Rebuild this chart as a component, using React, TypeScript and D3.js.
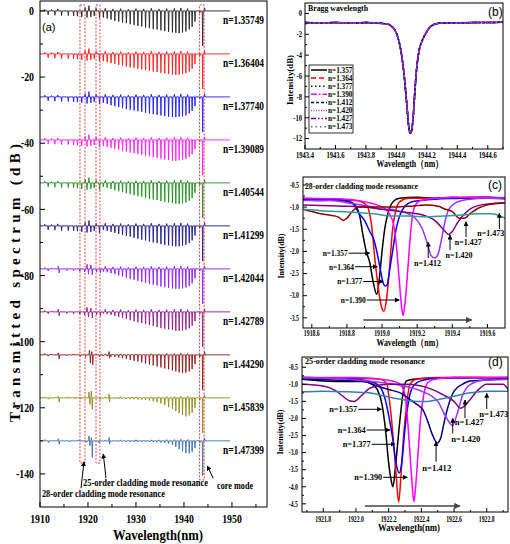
import React from "react";
import * as d3 from "d3";

const SERIF = "'Liberation Serif','Times New Roman',serif";
const SANS = "'Liberation Sans',Arial,sans-serif";

// ---------------- Panel (a) data ----------------
const aLabels = ["n=1.35749", "n=1.36404", "n=1.37740", "n=1.39089", "n=1.40544", "n=1.41299", "n=1.42044", "n=1.42789", "n=1.44290", "n=1.45839", "n=1.47399"];
const aColors = ["#222222", "#ff1a1a", "#1a1aff", "#ff1aff", "#1f8c1f", "#1a1a8c", "#8c1aff", "#8c1a8c", "#8c1a1a", "#8c8c1a", "#3a6fb0"];
const aOffsets = [0, -13, -26, -39, -52, -65, -78, -91, -104, -117, -130];
const combWl = [1923.2, 1924.0, 1924.8, 1925.6, 1926.4, 1927.2, 1928.0, 1928.8, 1929.6, 1930.4, 1931.2, 1932.0, 1932.8, 1933.6, 1934.4, 1935.2, 1936.0, 1936.8, 1937.6, 1938.3, 1939.0, 1939.7, 1940.4, 1941.1, 1941.7, 1942.3];
const depth1 = [2.0, 2.3, 2.6, 3.0, 3.2, 3.5, 3.7, 4.0, 4.2, 4.5, 4.7, 5.0, 5.2, 5.5, 5.6, 5.9, 6.1, 6.3, 6.5, 6.6, 6.7, 6.5, 6.2, 5.6, 4.8, 3.2];
const depth2 = [2.2, 2.5, 2.8, 3.0, 3.3, 3.5, 3.8, 4.0, 4.2, 4.5, 4.7, 4.9, 5.1, 5.3, 5.5, 5.7, 5.9, 6.1, 6.2, 6.3, 6.3, 6.1, 5.8, 5.3, 4.5, 3.0];
const depth3 = [1.8, 2.1, 2.5, 2.8, 3.1, 3.4, 3.7, 3.9, 4.1, 4.3, 4.5, 4.8, 5.0, 5.2, 5.4, 5.6, 5.8, 6.0, 6.1, 6.1, 6.0, 5.9, 5.6, 5.0, 4.2, 2.8];
const depth4 = [1.8, 2.1, 2.4, 2.7, 3.0, 3.3, 3.5, 3.8, 4.0, 4.3, 4.5, 4.8, 5.0, 5.2, 5.5, 5.7, 5.9, 6.1, 6.3, 6.3, 6.2, 6.0, 5.7, 5.1, 4.3, 2.8];
const depth5 = [1.2, 1.5, 1.8, 2.2, 2.5, 2.8, 3.1, 3.4, 3.7, 4.0, 4.2, 4.5, 4.8, 5.0, 5.2, 5.5, 5.7, 5.9, 6.1, 6.3, 6.3, 6.2, 5.9, 5.4, 4.6, 3.0];
const depth6 = [1.2, 1.5, 1.8, 2.1, 2.4, 2.7, 3.0, 3.3, 3.6, 3.9, 4.2, 4.4, 4.7, 5.0, 5.2, 5.5, 5.7, 5.9, 6.1, 6.2, 6.2, 6.0, 5.7, 5.2, 4.4, 2.9];
const depth7 = [0.8, 1.0, 1.3, 1.6, 2.0, 2.3, 2.7, 3.0, 3.3, 3.6, 3.9, 4.2, 4.5, 4.8, 5.0, 5.3, 5.5, 5.7, 5.9, 6.0, 6.0, 5.9, 5.6, 5.2, 4.4, 2.9];
const depth8 = [0.5, 0.7, 0.9, 1.2, 1.5, 1.8, 2.1, 2.5, 2.8, 3.1, 3.4, 3.7, 4.0, 4.3, 4.6, 4.9, 5.1, 5.3, 5.5, 5.7, 5.7, 5.6, 5.4, 5.0, 4.2, 2.8];
const depth9 = [0.3, 0.4, 0.5, 0.6, 0.8, 1.0, 1.3, 1.5, 1.8, 2.0, 2.3, 2.6, 2.9, 3.2, 3.5, 3.8, 4.1, 4.4, 4.7, 5.0, 5.3, 5.5, 5.4, 5.0, 4.3, 2.8];
const depth10 = [0.2, 0.2, 0.2, 0.3, 0.3, 0.3, 0.3, 0.4, 0.4, 0.5, 0.5, 0.6, 0.8, 1.0, 1.3, 1.7, 2.2, 2.8, 3.4, 4.0, 4.6, 5.2, 5.6, 5.3, 4.5, 3.0];
const depth11 = [0.2, 0.2, 0.2, 0.2, 0.2, 0.2, 0.3, 0.3, 0.3, 0.3, 0.3, 0.3, 0.3, 0.4, 0.4, 0.5, 0.6, 0.8, 1.2, 1.8, 2.5, 3.2, 3.7, 3.8, 3.3, 2.2];
// small upward noise spikes on the comb region (wavelength, dB)
const combUpWl = [1923.6, 1925.2, 1926.8, 1928.4, 1930.0, 1931.6, 1933.2, 1934.8, 1936.4, 1938.0, 1939.35, 1940.75];
const combUpLow = [0.8, 0.6, 0.7, 0.5, 0.7, 0.6, 0.8, 0.6, 0.7, 0.8, 0.9, 0.7];
const combUpHigh = [0.3, 0.2, 0.3, 0.2, 0.3, 0.2, 0.3, 0.3, 0.4, 0.4, 0.5, 0.4];
const leftA: [number, number][] = [[1911.0, 0.5], [1911.7, -1.2], [1912.4, 0.4], [1913.1, -1.3], [1913.7, 0.6], [1914.5, -1.4], [1915.9, -1.4], [1917.0, -1.5], [1917.8, -1.6], [1918.7, -1.8], [1919.4, 1.0], [1919.8, -2.0], [1920.2, 1.6], [1920.6, -1.8], [1921.3, -1.5], [1921.7, 0.8], [1922.4, -2.2]];
const leftB: [number, number][] = [[1911.0, 0.4], [1911.7, -0.6], [1912.5, 0.3], [1913.8, 0.8], [1914.0, -1.2], [1915.6, -0.5], [1917.0, -0.6], [1918.3, -0.7], [1919.3, -0.9], [1919.8, 1.4], [1920.1, -1.5], [1920.6, 1.2], [1920.9, -1.8], [1921.8, -0.9], [1922.6, -1.2]];
const leftC: [number, number][] = [[1911.0, 0.4], [1911.7, -0.4], [1912.3, 0.3], [1913.8, 0.6], [1914.0, -1.2], [1915.5, -0.3], [1917.0, 0.3], [1918.4, -0.4], [1919.5, -0.5], [1920.3, 1.4], [1920.5, -2.5], [1920.8, 1.0], [1921.0, -3.0], [1922.4, -0.6], [1924.4, 1.0], [1924.5, -1.0]];
const leftD: [number, number][] = [[1911.0, 0.3], [1911.8, -0.4], [1913.8, 0.5], [1914.0, -1.3], [1916.0, 0.3], [1917.3, -0.3], [1918.5, -0.3], [1920.2, 1.8], [1920.4, -2.0], [1920.7, 2.0], [1920.9, -3.5], [1922.5, -0.5], [1924.4, 1.2], [1924.5, -1.2], [1929.1, 0.3]];
const leftE: [number, number][] = [[1911.0, 0.4], [1911.8, -0.5], [1913.8, 0.6], [1914.0, -1.0], [1916.2, -0.3], [1918.0, 0.3], [1919.7, -0.4], [1920.2, 1.5], [1920.4, -1.5], [1920.7, 1.0], [1920.9, -5.0], [1922.3, -0.6], [1924.4, 1.0], [1924.5, -1.0], [1930.0, 0.3]];
const coreDip: [number, number][] = [[1943.3, -0.6], [1943.9, -10.6], [1944.3, 0.9]];
const aDepths = [depth1, depth2, depth3, depth4, depth5, depth6, depth7, depth8, depth9, depth10, depth11];
const aLeft = [leftA, leftA, leftA, leftA, leftA, leftA, leftB, leftB, leftC, leftD, leftE];
const aUp = [combUpLow, combUpLow, combUpLow, combUpLow, combUpLow, combUpLow, combUpLow, combUpLow, combUpHigh, combUpHigh, combUpHigh];
const aXTicks = [1910, 1920, 1930, 1940, 1950];
const aXMinor = [1915, 1925, 1935, 1945, 1955];
const aYTicks = [0, -20, -40, -60, -80, -100, -120, -140];
const aYMinor = [-10, -30, -50, -70, -90, -110, -130];
const aBoxes = [[1918.33, 1919.38, 1.8, -136.7], [1921.67, 1922.5, 1.8, -136.7], [1943.25, 1944.2, 1.8, -141.8]];
const aNotes = [
  { text: "28-order cladding mode resonance", x: 1910.4, y: -145.8, w: 123 },
  { text: "25-order cladding mode resonance", x: 1918.96, y: -142.45, w: 125 },
  { text: "core mode", x: 1946.9, y: -143.4, w: 36 },
];
const aArrows = [
  [1918.54, -144.3, 1919.17, -136.3],
  [1923.75, -141.3, 1923.19, -134.0],
  [1946.1, -141.3, 1944.85, -137.6],
];

// ---------------- Panel (b) data ----------------
const bLabels = ["n=1.357", "n=1.364", "n=1.377", "n=1.390", "n=1.412", "n=1.420", "n=1.427", "n=1.473"];
const bColors = ["#000000", "#ff0000", "#0000ff", "#ff00ff", "#000080", "#9933ff", "#800080", "#3d7ab8"];
const bDash = ["", "5,3", "1.5,2.5", "6,2,1.5,2", "3,2", "1,1.5", "5,2,1.5,2,1.5,2", "1.5,3"];
const braggWl = [1943.4, 1943.5, 1943.6, 1943.7, 1943.8, 1943.9, 1943.95, 1943.97, 1943.99, 1944.01, 1944.03, 1944.05, 1944.07, 1944.08, 1944.09, 1944.1, 1944.11, 1944.12, 1944.13, 1944.15, 1944.17, 1944.19, 1944.21, 1944.23, 1944.26, 1944.3, 1944.4, 1944.5, 1944.6, 1944.7];
const braggI = [-0.88, -0.9, -0.88, -0.9, -0.88, -0.95, -1.05, -1.25, -1.6, -2.3, -3.6, -5.8, -9.0, -10.7, -11.5, -11.2, -10.0, -7.8, -5.8, -3.5, -2.6, -2.0, -1.5, -1.2, -1.0, -0.92, -0.9, -0.88, -0.87, -0.85];
const bXTicks = [1943.4, 1943.6, 1943.8, 1944.0, 1944.2, 1944.4, 1944.6];
const bXMinor = [1943.5, 1943.7, 1943.9, 1944.1, 1944.3, 1944.5, 1944.7];
const bYTicks = [0, -2, -4, -6, -8, -10, -12];
const bYMinor = [-1, -3, -5, -7, -9, -11];

// ---------------- Panel (c) data ----------------
const cColors = ["#000000", "#ff0000", "#0000ff", "#ff00ff", "#9933ff", "#800080", "#8b0000", "#2e9a9a"];
const c1357: [number, number][] = [[1918.55, -0.82], [1918.64, -0.85], [1918.74, -0.84], [1918.83, -0.9], [1918.87, -1.15], [1918.89, -1.6], [1918.91, -2.0], [1918.93, -2.25], [1918.95, -2.7], [1918.97, -2.97], [1918.985, -2.6], [1919.0, -2.0], [1919.015, -1.5], [1919.03, -1.2], [1919.045, -1.0], [1919.07, -0.85], [1919.1, -0.8], [1919.2, -0.78], [1919.3, -0.8], [1919.4, -0.78], [1919.5, -0.8], [1919.6, -0.78], [1919.7, -0.8]];
const c1364: [number, number][] = [[1918.55, -0.8], [1918.7, -0.82], [1918.85, -0.85], [1918.91, -0.95], [1918.94, -1.4], [1918.96, -2.2], [1918.985, -3.0], [1919.0, -3.3], [1919.01, -3.35], [1919.025, -3.1], [1919.04, -2.5], [1919.06, -1.5], [1919.08, -1.05], [1919.1, -0.88], [1919.15, -0.8], [1919.3, -0.8], [1919.5, -0.78], [1919.7, -0.8]];
const c1377: [number, number][] = [[1918.55, -0.82], [1918.7, -0.82], [1918.8, -0.85], [1918.84, -0.95], [1918.87, -1.15], [1918.9, -1.3], [1918.93, -1.55], [1918.95, -1.7], [1918.97, -2.0], [1918.99, -2.4], [1919.005, -2.7], [1919.02, -2.78], [1919.03, -2.75], [1919.04, -2.5], [1919.06, -2.0], [1919.08, -1.5], [1919.1, -1.2], [1919.13, -0.98], [1919.17, -0.88], [1919.22, -0.85], [1919.3, -0.82], [1919.45, -0.8], [1919.55, -0.78], [1919.7, -0.8]];
const c1390: [number, number][] = [[1918.55, -0.8], [1918.8, -0.82], [1918.9, -0.88], [1918.97, -0.95], [1919.02, -1.05], [1919.06, -1.3], [1919.08, -1.8], [1919.095, -2.5], [1919.11, -3.2], [1919.12, -3.45], [1919.13, -3.2], [1919.145, -2.5], [1919.16, -1.7], [1919.175, -1.15], [1919.19, -0.95], [1919.22, -0.85], [1919.3, -0.8], [1919.5, -0.78], [1919.7, -0.8]];
const c1412: [number, number][] = [[1918.55, -0.85], [1918.7, -0.85], [1918.83, -0.92], [1918.95, -1.0], [1919.0, -1.05], [1919.05, -1.05], [1919.1, -1.1], [1919.15, -1.15], [1919.2, -1.3], [1919.23, -1.5], [1919.26, -1.85], [1919.28, -2.1], [1919.3, -2.15], [1919.32, -2.05], [1919.34, -1.7], [1919.36, -1.3], [1919.38, -1.05], [1919.42, -0.9], [1919.5, -0.82], [1919.6, -0.8], [1919.7, -0.82]];
const c1420: [number, number][] = [[1918.55, -0.95], [1918.7, -0.97], [1918.8, -0.98], [1918.9, -1.0], [1919.0, -1.05], [1919.1, -1.1], [1919.2, -1.15], [1919.25, -1.2], [1919.3, -1.3], [1919.33, -1.42], [1919.36, -1.55], [1919.38, -1.62], [1919.4, -1.55], [1919.43, -1.35], [1919.47, -1.15], [1919.52, -1.0], [1919.6, -0.93], [1919.7, -0.9]];
const c1427: [number, number][] = [[1918.55, -1.05], [1918.6, -1.1], [1918.65, -1.15], [1918.7, -1.18], [1918.75, -1.22], [1918.78, -1.3], [1918.8, -1.25], [1918.83, -1.1], [1918.87, -1.0], [1918.95, -1.0], [1919.05, -1.0], [1919.15, -0.98], [1919.25, -0.95], [1919.32, -0.98], [1919.36, -1.05], [1919.4, -1.1], [1919.44, -1.25], [1919.47, -1.25], [1919.5, -1.15], [1919.55, -1.02], [1919.6, -0.95], [1919.7, -0.9]];
const c1473: [number, number][] = [[1918.55, -1.05], [1918.65, -1.08], [1918.75, -1.1], [1918.85, -1.12], [1918.95, -1.15], [1919.05, -1.2], [1919.15, -1.2], [1919.25, -1.22], [1919.35, -1.2], [1919.45, -1.18], [1919.55, -1.15], [1919.62, -1.15], [1919.7, -1.25]];
const cSeries = [c1357, c1364, c1377, c1390, c1412, c1420, c1427, c1473];
const cXTicks = [1918.6, 1918.8, 1919.0, 1919.2, 1919.4, 1919.6];
const cXMinor = [1918.7, 1918.9, 1919.1, 1919.3, 1919.5];
const cYTicks = [-0.5, -1.0, -1.5, -2.0, -2.5, -3.0, -3.5];
const cYMinor = [-0.75, -1.25, -1.75, -2.25, -2.75, -3.25];
const cHNotes = [
  { text: "n=1.357", x0: 1918.81, x1: 1918.93, y: -2.04 },
  { text: "n=1.364", x0: 1918.846, x1: 1918.973, y: -2.346 },
  { text: "n=1.377", x0: 1918.893, x1: 1919.007, y: -2.68 },
  { text: "n=1.390", x0: 1918.913, x1: 1919.098, y: -3.098 },
];
const cVNotes = [
  { text: "n=1.412", x: 1919.263, yTip: -1.79, yStart: -2.15, tx: 1919.259, ty: -2.27 },
  { text: "n=1.420", x: 1919.387, yTip: -1.63, yStart: -1.97, tx: 1919.438, ty: -2.08 },
  { text: "n=1.427", x: 1919.478, yTip: -1.33, yStart: -1.675, tx: 1919.491, ty: -1.781 },
  { text: "n=1.473", x: 1919.668, yTip: -1.14, yStart: -1.494, tx: 1919.619, ty: -1.591 },
];
const cLong = [1918.893, 1919.51, -3.549];

// ---------------- Panel (d) data ----------------
const dColors = ["#000000", "#ff0000", "#0000ff", "#ff00ff", "#000080", "#9933ff", "#800080", "#3d7ab8"];
const d1357: [number, number][] = [[1921.67, -0.85], [1921.8, -0.9], [1921.95, -0.92], [1922.05, -0.92], [1922.1, -1.0], [1922.13, -1.15], [1922.16, -1.6], [1922.18, -2.3], [1922.2, -3.3], [1922.215, -3.8], [1922.226, -4.0], [1922.24, -3.5], [1922.25, -3.0], [1922.27, -2.0], [1922.29, -1.2], [1922.31, -0.9], [1922.35, -0.85], [1922.45, -0.82], [1922.6, -0.8], [1922.75, -0.8], [1922.93, -0.82]];
const d1364: [number, number][] = [[1921.67, -0.8], [1922.0, -0.82], [1922.15, -0.85], [1922.19, -1.0], [1922.2, -1.3], [1922.215, -1.9], [1922.23, -2.7], [1922.245, -3.6], [1922.261, -4.45], [1922.275, -3.7], [1922.29, -2.6], [1922.31, -1.6], [1922.33, -1.0], [1922.37, -0.85], [1922.5, -0.8], [1922.93, -0.8]];
const d1377: [number, number][] = [[1921.67, -0.8], [1921.9, -0.82], [1922.05, -0.88], [1922.13, -1.0], [1922.17, -1.3], [1922.2, -1.9], [1922.225, -2.6], [1922.245, -3.3], [1922.265, -3.6], [1922.28, -3.3], [1922.3, -2.3], [1922.33, -1.3], [1922.36, -1.0], [1922.41, -0.88], [1922.5, -0.82], [1922.93, -0.8]];
const d1390: [number, number][] = [[1921.67, -0.8], [1922.0, -0.8], [1922.2, -0.88], [1922.27, -1.0], [1922.3, -1.3], [1922.315, -2.0], [1922.33, -3.0], [1922.345, -4.0], [1922.354, -4.45], [1922.365, -4.0], [1922.38, -3.0], [1922.395, -2.0], [1922.415, -1.3], [1922.44, -0.95], [1922.48, -0.85], [1922.6, -0.8], [1922.93, -0.8]];
const d1412: [number, number][] = [[1921.67, -0.85], [1921.9, -0.88], [1922.05, -0.92], [1922.13, -1.05], [1922.2, -1.15], [1922.29, -1.3], [1922.33, -1.45], [1922.37, -1.58], [1922.41, -1.75], [1922.44, -2.1], [1922.47, -2.5], [1922.497, -2.72], [1922.52, -2.55], [1922.54, -2.1], [1922.57, -1.55], [1922.6, -1.2], [1922.65, -1.0], [1922.7, -0.9], [1922.93, -0.85]];
const d1420: [number, number][] = [[1921.67, -0.8], [1921.95, -0.85], [1922.1, -0.92], [1922.29, -1.05], [1922.4, -1.2], [1922.5, -1.5], [1922.55, -1.95], [1922.59, -2.2], [1922.62, -1.85], [1922.65, -1.35], [1922.7, -1.0], [1922.78, -0.88], [1922.93, -0.85]];
const d1427: [number, number][] = [[1921.67, -1.0], [1921.8, -1.05], [1921.88, -1.2], [1921.92, -1.35], [1921.96, -1.48], [1921.99, -1.5], [1922.03, -1.35], [1922.09, -1.1], [1922.2, -1.0], [1922.3, -1.0], [1922.45, -1.12], [1922.53, -1.3], [1922.6, -1.5], [1922.64, -1.7], [1922.68, -1.55], [1922.74, -1.2], [1922.8, -1.0], [1922.9, -1.0], [1922.93, -1.15]];
const d1473: [number, number][] = [[1921.67, -1.22], [1921.8, -1.2], [1921.95, -1.22], [1922.08, -1.25], [1922.18, -1.35], [1922.29, -1.45], [1922.37, -1.5], [1922.44, -1.5], [1922.5, -1.45], [1922.6, -1.35], [1922.7, -1.25], [1922.8, -1.2], [1922.93, -1.2]];
const dSeries = [d1357, d1364, d1377, d1390, d1412, d1420, d1427, d1473];
const dXTicks = [1921.8, 1922.0, 1922.2, 1922.4, 1922.6, 1922.8];
const dXMinor = [1921.7, 1921.9, 1922.1, 1922.3, 1922.5, 1922.7, 1922.9];
const dYTicks = [-0.5, -1.0, -1.5, -2.0, -2.5, -3.0, -3.5, -4.0, -4.5];
const dYMinor = [-0.75, -1.25, -1.75, -2.25, -2.75, -3.25, -3.75, -4.25];
const dHNotes = [
  { text: "n=1.357", x0: 1922.014, x1: 1922.157, y: -1.732 },
  { text: "n=1.364", x0: 1922.066, x1: 1922.208, y: -2.338 },
  { text: "n=1.377", x0: 1922.096, x1: 1922.239, y: -2.757 },
  { text: "n=1.390", x0: 1922.167, x1: 1922.314, y: -3.724 },
];
const dVNotes = [
  { text: "n=1.412", x: 1922.49, yTip: -2.68, yStart: -3.27, tx: 1922.494, ty: -3.46 },
  { text: "n=1.420", x: 1922.592, yTip: -1.995, yStart: -2.435, tx: 1922.672, ty: -2.602 },
  { text: "n=1.427", x: 1922.667, yTip: -1.46, yStart: -1.99, tx: 1922.693, ty: -2.124 },
  { text: "n=1.473", x: 1922.8, yTip: -1.263, yStart: -1.723, tx: 1922.843, ty: -1.878 },
];
const dLong = [1922.055, 1922.636, -4.564];

type S = d3.ScaleLinear<number, number>;

function T(p: any) {
  const { x, y, children, size = 11, anchor = "start", sx = 1, bold = true, font = SERIF, rotate = 0, fill = "#000", w, adj = "spacingAndGlyphs" } = p;
  return (
    <text
      transform={`translate(${x},${y}) rotate(${rotate}) scale(${sx},1)`}
      fontSize={size}
      fontFamily={font}
      fontWeight={bold ? "bold" : "normal"}
      textAnchor={anchor}
      fill={fill}
      dy="0.35em"
      textLength={w}
      lengthAdjust={w ? adj : undefined}
    >
      {children}
    </text>
  );
}

function Axes(p: any) {
  const { xs, ys, xTicks, xMinor, yTicks, yMinor, xFmt, yFmt, fs, sx, xLabY, yLabX, major = 4, minor = 2 } = p;
  const [x0, x1] = xs.range();
  const [y0, y1] = ys.range();
  return (
    <g>
      <rect x={x0} y={y1} width={x1 - x0} height={y0 - y1} fill="none" stroke="#000" strokeWidth={1} />
      {xTicks.map((t: number) => (
        <line key={"xt" + t} x1={xs(t)} x2={xs(t)} y1={y0} y2={y0 - major} stroke="#000" strokeWidth={1} />
      ))}
      {xMinor.map((t: number) => (
        <line key={"xm" + t} x1={xs(t)} x2={xs(t)} y1={y0} y2={y0 - minor} stroke="#000" strokeWidth={1} />
      ))}
      {yTicks.map((t: number) => (
        <line key={"yt" + t} x1={x0} x2={x0 + major} y1={ys(t)} y2={ys(t)} stroke="#000" strokeWidth={1} />
      ))}
      {yMinor.map((t: number) => (
        <line key={"ym" + t} x1={x0} x2={x0 + minor} y1={ys(t)} y2={ys(t)} stroke="#000" strokeWidth={1} />
      ))}
      {xTicks.map((t: number) => (
        <T key={"xl" + t} x={xs(t)} y={xLabY} size={fs} sx={sx} anchor="middle">{xFmt(t)}</T>
      ))}
      {yTicks.map((t: number) => (
        <T key={"yl" + t} x={yLabX} y={ys(t)} size={fs} sx={sx} anchor="end">{yFmt(t)}</T>
      ))}
    </g>
  );
}

export default function App() {
  const xA = d3.scaleLinear().domain([1910, 1957.3]).range([40, 267]);
  const yA = d3.scaleLinear().domain([-150, 3]).range([507, 1]);
  const xB = d3.scaleLinear().domain([1943.4, 1944.7]).range([305, 503]);
  const yB = d3.scaleLinear().domain([-13, 1]).range([149, 3]);
  const xC = d3.scaleLinear().domain([1918.55, 1919.7]).range([303, 505]);
  const yC = d3.scaleLinear().domain([-3.73, -0.32]).range([328, 177]);
  const xD = d3.scaleLinear().domain([1921.67, 1922.93]).range([302, 508]);
  const yD = d3.scaleLinear().domain([-4.74, -0.2]).range([512, 357]);

  const hw = 0.09;
  const aPaths = aOffsets.map((off, i) => {
    const feats: [number, number][] = [
      ...aLeft[i],
      ...combWl.map((w, k) => [w, -aDepths[i][k]] as [number, number]),
      ...combUpWl.map((w, k) => [w, aUp[i][k]] as [number, number]),
      ...coreDip,
    ].sort((a, b) => a[0] - b[0]);
    const pts: [number, number][] = [[1910, off]];
    feats.forEach(([w, d]) => {
      pts.push([w - hw, off], [w, off + d], [w + hw, off]);
    });
    pts.push([1949.6, off]);
    return d3.line<[number, number]>().x((d) => xA(d[0])).y((d) => yA(d[1]))(pts) as string;
  });

  const lineOf = (xs: S, ys: S) =>
    d3.line<[number, number]>().x((d) => xs(d[0])).y((d) => ys(d[1])).curve(d3.curveMonotoneX);

  const braggPts: [number, number][] = braggWl.map((w, i) => [w, braggI[i]]);
  const f1 = (v: number) => String(v);
  const f1d = (v: number) => v.toFixed(1);

  return (
    <svg width={510} height={544} style={{ position: "absolute", left: 0, top: 0, background: "#fff" }}>
      <defs>
        <marker id="ah" viewBox="0 0 10 10" refX="9" refY="5" markerWidth="5" markerHeight="5" orient="auto">
          <path d="M0,0 L10,5 L0,10 z" fill="#000" />
        </marker>
        <marker id="ahg" viewBox="0 0 10 10" refX="9" refY="5" markerWidth="4" markerHeight="4" orient="auto">
          <path d="M0,0 L10,5 L0,10 z" fill="#444" />
        </marker>
        <clipPath id="cb"><rect x={305} y={3} width={198} height={146} /></clipPath>
        <clipPath id="cc"><rect x={303} y={177} width={202} height={151} /></clipPath>
        <clipPath id="cd"><rect x={302} y={357} width={206} height={155} /></clipPath>
      </defs>
      <rect x={0} y={0} width={510} height={544} fill="#fff" />

      {/* ---------- Panel (a) ---------- */}
      {aPaths.map((d, i) => (
        <path key={"a" + i} d={d} fill="none" stroke={aColors[i]} strokeWidth={0.9} />
      ))}
      {aBoxes.map((b, i) => (
        <rect key={"bx" + i} x={xA(b[0])} y={yA(b[2])} width={xA(b[1]) - xA(b[0])} height={yA(b[3]) - yA(b[2])}
          fill="none" stroke="#e03030" strokeWidth={0.9} strokeDasharray="2,1.5" />
      ))}
      {aLabels.map((l, i) => (
        <T key={"al" + i} x={223} y={yA(aOffsets[i]) + 9} size={12} w={41}>{l}</T>
      ))}
      <Axes xs={xA} ys={yA} xTicks={aXTicks} xMinor={aXMinor} yTicks={aYTicks} yMinor={aYMinor}
        xFmt={f1} yFmt={f1} fs={12} sx={0.82} xLabY={519} yLabX={34} major={5} minor={3} />
      <T x={42} y={27} size={11} bold={false} font={SANS}>(a)</T>
      {aNotes.map((n, i) => (
        <T key={"an" + i} x={xA(n.x)} y={yA(n.y)} size={11} w={n.w}>{n.text}</T>
      ))}
      {aArrows.map((a, i) => (
        <line key={"aa" + i} x1={xA(a[0])} y1={yA(a[1])} x2={xA(a[2])} y2={yA(a[3])} stroke="#000" strokeWidth={1} markerEnd="url(#ah)" />
      ))}
      <T x={158} y={535} size={15} w={90} anchor="middle">Wavelength(nm)</T>
      <T x={15} y={283} size={15} rotate={-90} anchor="middle" w={278} adj="spacing">Transmitted spectrum (dB)</T>

      {/* ---------- Panel (b) ---------- */}
      <g clipPath="url(#cb)">
        {bColors.map((c, i) => (
          <path key={"b" + i} d={lineOf(xB, yB)(braggPts) as string} fill="none" stroke={c}
            strokeWidth={i === 0 ? 1.6 : 1.5} strokeDasharray={bDash[i] || undefined} />
        ))}
      </g>
      <Axes xs={xB} ys={yB} xTicks={bXTicks} xMinor={bXMinor} yTicks={bYTicks} yMinor={bYMinor}
        xFmt={f1d} yFmt={f1} fs={8} sx={0.82} xLabY={155} yLabX={302} />
      <T x={308} y={8.5} size={8.5} w={60}>Bragg wavelength</T>
      <T x={488} y={12} size={12} bold={false} font={SANS}>(b)</T>
      <rect x={309} y={65} width={44} height={68} fill="#fff" stroke="#000" strokeWidth={0.8} />
      {bLabels.map((l, i) => (
        <g key={"lg" + i}>
          <line x1={311} x2={327} y1={70 + i * 8.1} y2={70 + i * 8.1} stroke={bColors[i]} strokeWidth={1.5}
            strokeDasharray={bDash[i] || undefined} />
          <T x={328} y={70 + i * 8.1} size={7.5} w={24.5}>{l}</T>
        </g>
      ))}
      <T x={290} y={80} size={8} rotate={-90} anchor="middle" w={50}>Intensity(dB)</T>
      <T x={410} y={164} size={9.5} anchor="middle" w={67}>Wavelength（nm）</T>

      {/* ---------- Panel (c) ---------- */}
      <g clipPath="url(#cc)">
        {cSeries.map((s, i) => (
          <path key={"c" + i} d={lineOf(xC, yC)(s) as string} fill="none" stroke={cColors[i]} strokeWidth={1.5} />
        ))}
      </g>
      <Axes xs={xC} ys={yC} xTicks={cXTicks} xMinor={cXMinor} yTicks={cYTicks} yMinor={cYMinor}
        xFmt={f1d} yFmt={f1d} fs={8} sx={0.72} xLabY={333} yLabX={299} />
      <T x={305} y={186} size={8} w={113}>28-order cladding mode resonance</T>
      <T x={488} y={185} size={12} bold={false} font={SANS}>(c)</T>
      {cHNotes.map((n, i) => (
        <g key={"ch" + i}>
          <T x={xC(n.x0) - 1} y={yC(n.y)} size={8} anchor="end" w={25}>{n.text}</T>
          <line x1={xC(n.x0)} x2={xC(n.x1)} y1={yC(n.y)} y2={yC(n.y)} stroke="#000" strokeWidth={1} markerEnd="url(#ah)" />
        </g>
      ))}
      {cVNotes.map((n, i) => (
        <g key={"cv" + i}>
          <T x={xC(n.tx)} y={yC(n.ty)} size={8} anchor="middle" w={27}>{n.text}</T>
          <line x1={xC(n.x)} x2={xC(n.x)} y1={yC(n.yStart)} y2={yC(n.yTip)} stroke="#000" strokeWidth={1} markerEnd="url(#ah)" />
        </g>
      ))}
      <line x1={xC(cLong[0])} x2={xC(cLong[1])} y1={yC(cLong[2])} y2={yC(cLong[2])} stroke="#444" strokeWidth={1.6} markerEnd="url(#ahg)" />
      <T x={281} y={256} size={8} rotate={-90} anchor="middle" w={45}>Intensity(dB)</T>
      <T x={410} y={343} size={9.5} anchor="middle" w={67}>Wavelength（nm）</T>

      {/* ---------- Panel (d) ---------- */}
      <g clipPath="url(#cd)">
        {dSeries.map((s, i) => (
          <path key={"d" + i} d={lineOf(xD, yD)(s) as string} fill="none" stroke={dColors[i]} strokeWidth={1.5} />
        ))}
      </g>
      <Axes xs={xD} ys={yD} xTicks={dXTicks} xMinor={dXMinor} yTicks={dYTicks} yMinor={dYMinor}
        xFmt={f1d} yFmt={f1d} fs={8} sx={0.72} xLabY={519} yLabX={298} />
      <T x={305} y={361} size={8.5} w={120}>25-order cladding mode resonance</T>
      <T x={488} y={362} size={12} bold={false} font={SANS}>(d)</T>
      {dHNotes.map((n, i) => (
        <g key={"dh" + i}>
          <T x={xD(n.x0) - 1} y={yD(n.y)} size={8} anchor="end" w={28}>{n.text}</T>
          <line x1={xD(n.x0)} x2={xD(n.x1)} y1={yD(n.y)} y2={yD(n.y)} stroke="#000" strokeWidth={1} markerEnd="url(#ah)" />
        </g>
      ))}
      {dVNotes.map((n, i) => (
        <g key={"dv" + i}>
          <T x={xD(n.tx)} y={yD(n.ty)} size={8} anchor="middle" w={29}>{n.text}</T>
          <line x1={xD(n.x)} x2={xD(n.x)} y1={yD(n.yStart)} y2={yD(n.yTip)} stroke="#000" strokeWidth={1} markerEnd="url(#ah)" />
        </g>
      ))}
      <line x1={xD(dLong[0])} x2={xD(dLong[1])} y1={yD(dLong[2])} y2={yD(dLong[2])} stroke="#444" strokeWidth={1.6} markerEnd="url(#ahg)" />
      <T x={280} y={432} size={8} rotate={-90} anchor="middle" w={45}>Intensity(dB)</T>
      <T x={409} y={528} size={9.5} anchor="middle" w={62}>Wavelength(nm)</T>
    </svg>
  );
}
